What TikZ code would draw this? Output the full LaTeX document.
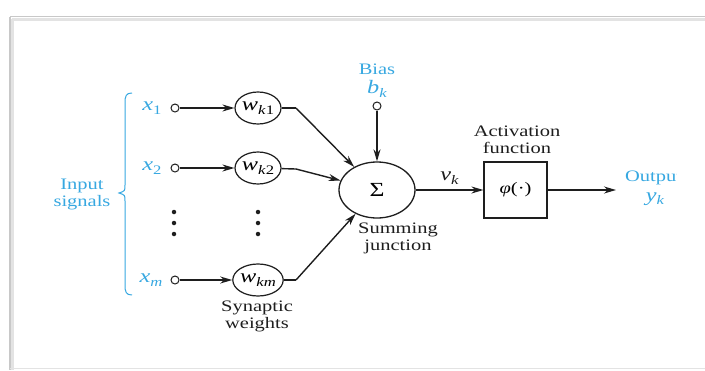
\documentclass[tikz,border=0pt]{standalone}
\usepackage{fontspec}
\setmainfont{Liberation Serif}
\usepackage{graphicx}
\usetikzlibrary{arrows.meta,shapes.geometric}
\definecolor{lblue}{RGB}{55,168,225}
\definecolor{ink}{RGB}{30,30,30}
\definecolor{framegray}{RGB}{200,200,200}
\newcommand\sx[1]{\scalebox{1.28}[1]{#1}}
\newcommand\vsub[2]{{\fontsize{19}{19}\selectfont\textit{#1}}\raisebox{-3.5pt}{\fontsize{13}{13}\selectfont #2}}
\begin{document}
\begin{tikzpicture}[x=1pt,y=-1pt,
  font=\fontsize{16}{17}\selectfont,
  wire/.style={draw=ink, line width=1.4pt},
  arr/.style={wire,-{Stealth[length=12pt,width=7pt]}},
  term/.style={circle, draw=ink, line width=1pt, minimum size=8pt, inner sep=0pt, fill=white},
  weight/.style={ellipse, draw=ink, line width=1.2pt, minimum width=46pt, minimum height=32pt, inner sep=0pt},
  lbl/.style={text=lblue, inner sep=0pt},
  txt/.style={text=ink, align=center, inner sep=0pt},
  dotn/.style={circle, fill=ink, minimum size=4.5pt, inner sep=0pt}]
\useasboundingbox (0,0) rectangle (705,370);
\fill[white] (0,0) rectangle (705,370);
% frame
\draw[framegray!50, line width=3pt] (12,19) -- (705,19);
\draw[framegray!50, line width=3pt] (12,19) -- (12,370);
\draw[framegray, line width=1.2pt] (10,16.5) -- (705,16.5);
\draw[framegray, line width=1.2pt] (10,16.5) -- (10,370);
\draw[framegray!50, line width=1pt] (10,368) -- (705,368);

% input brace and label
\draw[lblue, line width=1pt] (132,93) .. controls (126,93) and (125,96) .. (125,103) -- (125,185) .. controls (125,191) .. (119,193) .. controls (125,195) .. (125,201) -- (125,285) .. controls (125,292) and (126,295) .. (132,295);
\node[lbl, align=center] (insig) at (82,194) {\sx{Input}\\\sx{signals}};

% inputs
\node[lbl] (x1l) at (152,108) {\sx{\vsub{x}{1}}};
\node[lbl] (x2l) at (152,168) {\sx{\vsub{x}{2}}};
\node[lbl] (xml) at (151,280) {\sx{\vsub{x}{\textit{m}}}};
\node[term] (x1) at (175,108) {};
\node[term] (x2) at (175,168) {};
\node[term] (xm) at (175,280) {};

% weights
\node[weight] (w1) at (258,108) {\sx{\vsub{w}{\textit{k}1}}};
\node[weight] (w2) at (258,168) {\sx{\vsub{w}{\textit{k}2}}};
\node[weight] (wm) at (258,280) {\sx{\vsub{w}{\textit{km}}}};
\node[txt] (synw) at (257,316) {\sx{Synaptic}\\\sx{weights}};

% dots
\node[dotn] (d1) at (174,212) {};
\node[dotn] (d2) at (174,223) {};
\node[dotn] (d3) at (174,234) {};
\node[dotn] (e1) at (258,212) {};
\node[dotn] (e2) at (258,223) {};
\node[dotn] (e3) at (258,234) {};

\draw[arr] (x1) -- (w1);
\draw[arr] (x2) -- (w2);
\draw[arr] (xm) -- (wm);

% summing junction
\node[ellipse, draw=ink, line width=1.3pt, minimum width=76pt, minimum height=56pt, inner sep=0pt] (sum) at (377,190) {\sx{\fontsize{20}{20}\selectfont Σ}};
\node[txt] (sumlbl) at (398,238) {\sx{Summing}\\\sx{junction}};

\coordinate (c1) at (296,108);
\coordinate (c2) at (296,169);
\coordinate (cm) at (296,280);
\draw[wire] (w1) -- (c1);
\draw[wire] (w2) -- (c2);
\draw[wire] (wm) -- (cm);
\draw[arr] (c1) -- (sum);
\draw[arr] (c2) -- (sum);
\draw[arr] (cm) -- (sum);

% bias
\node[lbl] (bias) at (377,69) {\sx{Bias}};
\node[lbl] (bk) at (377,89) {\sx{\vsub{b}{\textit{k}}}};
\node[term] (bt) at (377,106) {};
\draw[arr] (bt) -- (sum);

% activation
\node[draw=ink, line width=1.2pt, minimum width=63pt, minimum height=56pt, inner sep=0pt] (act) at (515.5,190) {\sx{\textit{φ}(·)}};
\node[txt] (actlbl) at (517,140) {\sx{Activation}\\\sx{function}};
\draw[arr] (sum) -- node[above=5pt, inner sep=0pt, text=ink] (vk) {\sx{\vsub{v}{\textit{k}}}} (act);

% output
\coordinate (outend) at (616,190);
\draw[arr] (act) -- (outend);
\begin{scope}
\clip (600,150) rectangle (676,215);
\node[lbl, anchor=west] (outl) at (625,178) {\sx{Output}};
\end{scope}
\node[lbl] (yk) at (655,199) {\sx{\vsub{y}{\textit{k}}}};
\end{tikzpicture}
\end{document}
